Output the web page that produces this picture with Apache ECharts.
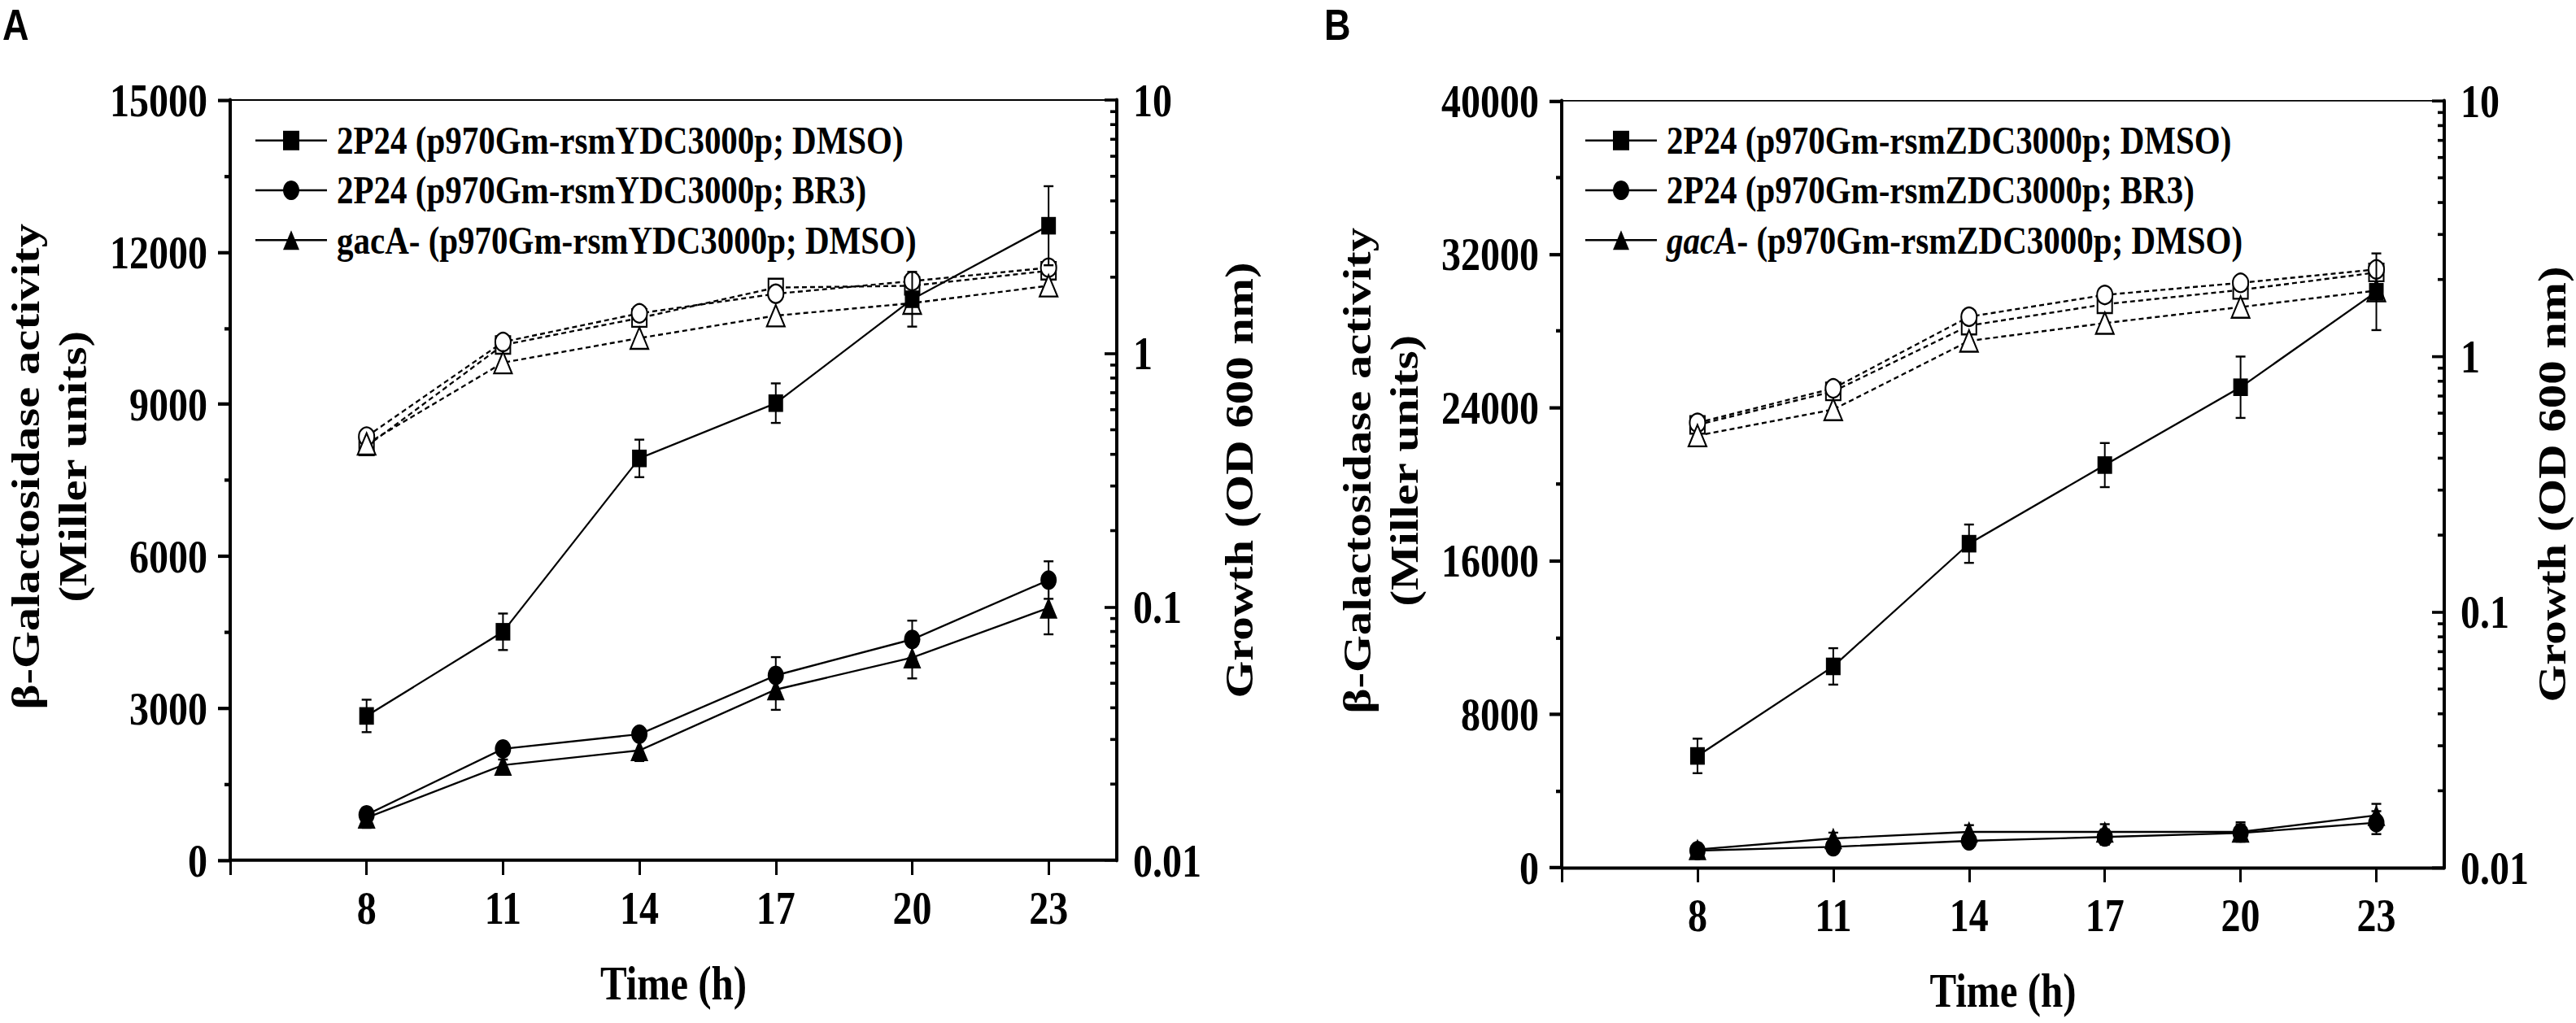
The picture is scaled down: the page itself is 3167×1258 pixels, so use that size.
<!DOCTYPE html>
<html>
<head>
<meta charset="UTF-8">
<title>beta-Galactosidase activity and growth</title>
<script src="https://cdn.jsdelivr.net/npm/echarts@6.0.0/dist/echarts.min.js"></script>
<style>
html, body {
	margin: 0;
	padding: 0;
	background: #fff;
}

#page {
	width: 3167px;
	height: 1258px;
	overflow: hidden;
}

/* the source figure is stretched vertically, so the chart is drawn 1/1.2 high and scaled */
#main {
	width: 3167px;
	height: 1048px;
	transform: scaleY(1.2);
	transform-origin: 0 0;
}
</style>
</head>
<body>
	<div id="page"><div id="main"></div></div>
	<script>
		// time points and axis ticks
		var hours = [ 8, 11, 14, 17, 20, 23 ];
		var timeTicks = [ 5, 8, 11, 14, 17, 20, 23 ];
		var X_MIN = 5, X_MAX = 24.5;
		var odMinorTicks = [ 0.02, 0.03, 0.04, 0.05, 0.06, 0.07, 0.08, 0.09,
				0.2, 0.3, 0.4, 0.5, 0.6, 0.7, 0.8, 0.9,
				2, 3, 4, 5, 6, 7, 8, 9 ];

		// panel A : rsmY reporter
		var namesA = [ '2P24 (p970Gm-rsmYDC3000p; DMSO)', '2P24 (p970Gm-rsmYDC3000p; BR3)', 'gacA- (p970Gm-rsmYDC3000p; DMSO)' ];
		var aDmso = [ 2850, 4510, 7930, 9020, 11070, 12520 ];
		var aDmsoErr = [ 320, 360, 370, 390, 540, 780 ];
		var aBr3 = [ 900, 2200, 2490, 3650, 4360, 5530 ];
		var aBr3Err = [ 110, 120, 110, 360, 370, 370 ];
		var aGac = [ 840, 1880, 2170, 3370, 4000, 4980 ];
		var aGacErr = [ 200, 110, 210, 400, 410, 520 ];
		var aDmsoOd = [ 0.43, 1.08, 1.38, 1.82, 1.85, 2.12 ];
		var aBr3Od = [ 0.47, 1.11, 1.44, 1.72, 1.93, 2.18 ];
		var aGacOd = [ 0.44, 0.92, 1.15, 1.41, 1.58, 1.85 ];

		// panel B : rsmZ reporter
		var namesB = [ '2P24 (p970Gm-rsmZDC3000p; DMSO)', '2P24 (p970Gm-rsmZDC3000p; BR3)', 'gacA- (p970Gm-rsmZDC3000p; DMSO)' ];
		var bDmso = [ 5830, 10500, 16900, 21000, 25060, 30040 ];
		var bDmsoErr = [ 900, 950, 1000, 1150, 1600, 2000 ];
		var bBr3 = [ 890, 1090, 1400, 1600, 1810, 2350 ];
		var bBr3Err = [ 300, 350, 350, 400, 450, 600 ];
		var bGac = [ 950, 1530, 1870, 1870, 1870, 2730 ];
		var bGacErr = [ 300, 300, 350, 400, 500, 600 ];
		var bDmsoOd = [ 0.54, 0.73, 1.32, 1.60, 1.82, 2.13 ];
		var bBr3Od = [ 0.55, 0.75, 1.43, 1.74, 1.94, 2.19 ];
		var bGacOd = [ 0.49, 0.62, 1.15, 1.35, 1.56, 1.81 ];

		var SERIF = "'Liberation Serif', 'Times New Roman', serif";
		var serifBold = function(size) {
			return { fontFamily : SERIF, fontWeight : 'bold', fontSize : size, color : '#000' };
		};

		function pairs(ys) {
			return hours.map(function(h, i) { return [ h, ys[i] ]; });
		}

		function errRender(params, api) {
			var x = api.value(0), y = api.value(1), e = api.value(2);
			var hi = api.coord([ x, y + e ]);
			var lo = api.coord([ x, y - e ]);
			var w = 6;
			var st = { stroke : '#000', lineWidth : 2 };
			return {
				type : 'group',
				children : [
					{ type : 'line', shape : { x1 : hi[0], y1 : hi[1], x2 : lo[0], y2 : lo[1] }, style : st },
					{ type : 'line', shape : { x1 : hi[0] - w, y1 : hi[1], x2 : hi[0] + w, y2 : hi[1] }, style : st },
					{ type : 'line', shape : { x1 : lo[0] - w, y1 : lo[1], x2 : lo[0] + w, y2 : lo[1] }, style : st }
				]
			};
		}

		function minorTickRender(params, api) {
			var p = api.coord([ api.value(0), api.value(1) ]);
			return {
				type : 'line',
				shape : { x1 : p[0] + 2, y1 : p[1], x2 : p[0] - 8, y2 : p[1] },
				style : { stroke : '#000', lineWidth : 3 }
			};
		}

		function activitySeries(g, name, ys, symbol, size) {
			return {
				name : name,
				type : 'line',
				xAxisIndex : g,
				yAxisIndex : g * 2,
				data : pairs(ys),
				symbol : symbol,
				symbolSize : size,
				z : 4,
				lineStyle : { color : '#000', width : 2 },
				itemStyle : { color : '#000' }
			};
		}

		function errSeries(g, ys, errs) {
			return {
				type : 'custom',
				xAxisIndex : g,
				yAxisIndex : g * 2,
				renderItem : errRender,
				encode : { x : 0, y : 1 },
				data : hours.map(function(h, i) { return [ h, ys[i], errs[i] ]; }),
				silent : true,
				z : 3
			};
		}

		function growthSeries(g, name, ys, symbol, size) {
			return {
				name : name,
				type : 'line',
				xAxisIndex : g,
				yAxisIndex : g * 2 + 1,
				data : pairs(ys),
				symbol : symbol,
				symbolSize : size,
				z : 2,
				lineStyle : { color : '#000', width : 2, type : [ 6, 4 ] },
				itemStyle : { color : '#fff', borderColor : '#000', borderWidth : 2 }
			};
		}

		function minorSeries(g) {
			return {
				type : 'custom',
				xAxisIndex : g,
				yAxisIndex : g * 2 + 1,
				renderItem : minorTickRender,
				encode : { x : 0, y : 1 },
				data : odMinorTicks.map(function(v) { return [ X_MAX, v ]; }),
				silent : true,
				z : 5
			};
		}

		function xAxisOf(g) {
			return {
				type : 'value',
				gridIndex : g,
				min : X_MIN,
				max : X_MAX,
				position : 'bottom',
				name : 'Time (h)',
				nameLocation : 'middle',
				nameGap : 102,
				nameTextStyle : serifBold(49),
				axisLine : { onZero : false, lineStyle : { color : '#000', width : 3.3 } },
				axisTick : { length : 15, customValues : timeTicks, lineStyle : { color : '#000', width : 3 } },
				axisLabel : Object.assign({ customValues : hours, margin : 25 }, serifBold(48)),
				splitLine : { show : false }
			};
		}

		function activityAxis(g, max, step) {
			return {
				type : 'value',
				gridIndex : g,
				min : 0,
				max : max,
				interval : step,
				position : 'left',
				name : 'β-Galactosidase activity\n(Miller units)',
				nameLocation : 'middle',
				nameRotate : 90,
				nameGap : 164,
				nameTextStyle : Object.assign({ lineHeight : 58, padding : [ 0, 0, 0, 28 ] }, serifBold(49)),
				axisLine : { show : true, onZero : false, lineStyle : { color : '#000', width : 4 } },
				axisTick : { show : true, length : 15, lineStyle : { color : '#000', width : 3.5 } },
				minorTick : { show : true, splitNumber : 2, length : 7, lineStyle : { color : '#000', width : 3.5 } },
				axisLabel : Object.assign({
					margin : 28,
					formatter : function(v) { return String(v); }
				}, serifBold(48)),
				splitLine : { show : false }
			};
		}

		function growthAxis(g, gap) {
			return {
				type : 'log',
				logBase : 10,
				gridIndex : g,
				min : 0.01,
				max : 10,
				position : 'right',
				name : 'Growth (OD 600 nm)',
				nameLocation : 'middle',
				nameRotate : 90,
				nameGap : gap,
				nameTextStyle : serifBold(49),
				axisLine : { show : true, onZero : false, lineStyle : { color : '#000', width : 4 } },
				axisTick : { show : true, inside : true, length : 15, lineStyle : { color : '#000', width : 3 } },
				axisLabel : Object.assign({
					margin : 20,
					formatter : function(v) { return String(+Number(v).toPrecision(6)); }
				}, serifBold(48)),
				splitLine : { show : false }
			};
		}

		function legendOf(names, left) {
			return {
				data : names,
				orient : 'vertical',
				left : left,
				top : 117,
				itemWidth : 88,
				itemHeight : 25,
				itemGap : 7,
				selectedMode : false,
				textStyle : Object.assign({ lineHeight : 44, padding : [ 0, 0, 0, 7 ] }, serifBold(41))
			};
		}

		var legendB = legendOf(namesB, 1943);
		legendB.formatter = function(name) {
			return name.indexOf('gacA') === 0 ? '{i|gacA}' + name.slice(4) : name;
		};
		legendB.textStyle.rich = {
			i : { fontFamily : SERIF, fontWeight : 'bold', fontStyle : 'italic', fontSize : 41, lineHeight : 44, color : '#000' }
		};

		var gridStyle = { show : true, borderColor : '#000', borderWidth : 1.5, backgroundColor : 'transparent' };

		var option = {
			animation : false,
			backgroundColor : '#fff',
			textStyle : { fontFamily : SERIF },
			grid : [
				Object.assign({ left : 283, top : 102.5, width : 1090, height : 779.2 }, gridStyle),
				Object.assign({ left : 1920, top : 103.3, width : 1085, height : 785.9 }, gridStyle)
			],
			xAxis : [ xAxisOf(0), xAxisOf(1) ],
			yAxis : [ activityAxis(0, 15000, 3000), growthAxis(0, 126),
					activityAxis(1, 40000, 8000), growthAxis(1, 108) ],
			legend : [ legendOf(namesA, 308), legendB ],
			graphic : [
				{ type : 'text', left : 3, top : 3, style : { text : 'A', font : "bold 45px 'Liberation Sans', Arial, sans-serif", fill : '#000' } },
				{ type : 'text', left : 1628, top : 3, style : { text : 'B', font : "bold 45px 'Liberation Sans', Arial, sans-serif", fill : '#000' } }
			],
			series : [
				growthSeries(0, 'A OD DMSO', aDmsoOd, 'rect', 18),
				growthSeries(0, 'A OD BR3', aBr3Od, 'circle', 19),
				growthSeries(0, 'A OD gacA', aGacOd, 'triangle', 22),
				errSeries(0, aDmso, aDmsoErr),
				errSeries(0, aBr3, aBr3Err),
				errSeries(0, aGac, aGacErr),
				activitySeries(0, namesA[0], aDmso, 'rect', 18),
				activitySeries(0, namesA[1], aBr3, 'circle', 20),
				activitySeries(0, namesA[2], aGac, 'triangle', 22),
				minorSeries(0),

				growthSeries(1, 'B OD DMSO', bDmsoOd, 'rect', 18),
				growthSeries(1, 'B OD BR3', bBr3Od, 'circle', 19),
				growthSeries(1, 'B OD gacA', bGacOd, 'triangle', 22),
				errSeries(1, bDmso, bDmsoErr),
				errSeries(1, bBr3, bBr3Err),
				errSeries(1, bGac, bGacErr),
				activitySeries(1, namesB[0], bDmso, 'rect', 18),
				activitySeries(1, namesB[1], bBr3, 'circle', 20),
				activitySeries(1, namesB[2], bGac, 'triangle', 22),
				minorSeries(1)
			]
		};

		var myChart = echarts.init(document.getElementById('main'), null, { renderer : 'svg' });
		myChart.setOption(option);
	</script>
</body>
</html>
